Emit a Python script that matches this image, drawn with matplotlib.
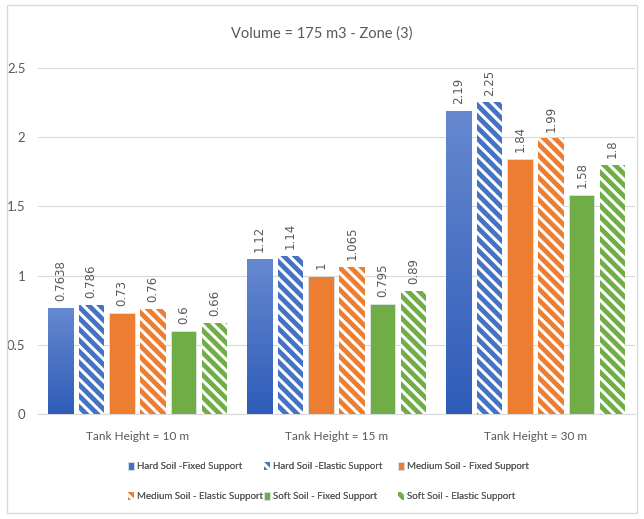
import numpy as np
import matplotlib
matplotlib.use("Agg")
import matplotlib.pyplot as plt
from matplotlib.colors import LinearSegmentedColormap
from matplotlib.patches import Rectangle

categories = ["Tank Height = 10 m", "Tank Height = 15 m", "Tank Height = 30 m"]
series_names = [
    "Hard Soil -Fixed Support",
    "Hard Soil -Elastic Support",
    "Medium Soil - Fixed Support",
    "Medium Soil - Elastic Support",
    "Soft Soil - Fixed Support",
    "Soft Soil - Elastic Support",
]
hard_fixed = [0.7638, 1.12, 2.19]
hard_elastic = [0.786, 1.14, 2.25]
medium_fixed = [0.73, 1.0, 1.84]
medium_elastic = [0.76, 1.065, 1.99]
soft_fixed = [0.6, 0.795, 1.58]
soft_elastic = [0.66, 0.89, 1.8]
value_labels = [
    ["0.7638", "1.12", "2.19"],
    ["0.786", "1.14", "2.25"],
    ["0.73", "1", "1.84"],
    ["0.76", "1.065", "1.99"],
    ["0.6", "0.795", "1.58"],
    ["0.66", "0.89", "1.8"],
]
yticks = [0, 0.5, 1, 1.5, 2, 2.5]
ytick_labels = ["0", "0.5", "1", "1.5", "2", "2.5"]

all_series = [hard_fixed, hard_elastic, medium_fixed, medium_elastic, soft_fixed, soft_elastic]
blue, orange, green = "#4472C4", "#ED7D31", "#70AD47"
colors = [blue, blue, orange, orange, green, green]
hatched = [False, True, False, True, False, True]

plt.rcParams["font.family"] = ["Lato", "DejaVu Sans"]
plt.rcParams["hatch.linewidth"] = 2.2
text_gray = "#595959"

W, H = 644, 519
fig = plt.figure(figsize=(W / 100, H / 100), dpi=100)
ax = fig.add_axes([0.059, 0.2023, 0.927, 0.667])

x = np.arange(len(categories))
step = 0.155
width = 0.127
offsets = (np.arange(6) - 2.5) * step

grad_cmap = LinearSegmentedColormap.from_list("blue_grad", ["#2E5CB8", "#6689D0"])

handles = []
for i, vals in enumerate(all_series):
    if hatched[i]:
        bars = ax.bar(x + offsets[i], vals, width, color=colors[i], edgecolor="white",
                      linewidth=0, hatch="\\\\\\", label=series_names[i], zorder=3)
    else:
        bars = ax.bar(x + offsets[i], vals, width, color=colors[i], edgecolor="#dde3ee",
                      linewidth=0.6, label=series_names[i], zorder=3)
    if i == 0:
        for b in bars:
            x0, w, h = b.get_x(), b.get_width(), b.get_height()
            grad = np.linspace(0, 1, 256).reshape(-1, 1)
            im = ax.imshow(grad, cmap=grad_cmap, origin="lower", aspect="auto",
                           extent=[x0, x0 + w, 0, h], zorder=3.5)
            im.set_clip_path(b)
    handles.append(bars)
    for b, lab in zip(bars, value_labels[i]):
        ax.annotate(lab, (b.get_x() + b.get_width() / 2, b.get_height()),
                    xytext=(0, 5), textcoords="offset points", rotation=90,
                    ha="center", va="bottom", fontsize=8.5, color=text_gray,
                    family="DejaVu Sans", zorder=5)

ax.set_xlim(-0.5, 2.5)
ax.set_ylim(0, 2.5)
ax.set_yticks(yticks)
ax.set_yticklabels(ytick_labels)
ax.set_xticks(x)
ax.set_xticklabels(categories)
ax.tick_params(axis="x", length=0, labelsize=8.5, colors=text_gray, pad=12)
ax.tick_params(axis="y", length=0, labelsize=9.5, colors=text_gray, pad=9)
ax.grid(axis="y", color="#d9d9d9", linewidth=0.8, zorder=0)
for side in ["top", "right", "left"]:
    ax.spines[side].set_visible(False)
ax.spines["bottom"].set_color("#d9d9d9")
ax.spines["bottom"].set_zorder(0)

fig.text(0.5, 0.935, "Volume = 175 m3 - Zone (3)", ha="center", va="center",
         fontsize=10.5, color=text_gray)

# legend: three equal-width columns, two rows, filled row by row
col_left_px = [128, 264, 398]
legend_center_y = 1 - 481.5 / H
for c, xpx in enumerate(col_left_px):
    idx = [c, c + 3]
    leg = fig.legend([handles[k] for k in idx], [series_names[k] for k in idx],
                     loc="center left", bbox_to_anchor=(xpx / W, legend_center_y),
                     ncol=1, frameon=False, fontsize=7, labelcolor=text_gray,
                     handlelength=0.65, handleheight=0.85, handletextpad=0.3,
                     labelspacing=2.15, borderpad=0, borderaxespad=0)
    fig.add_artist(leg)

fig.patches.append(Rectangle((0.011, 0.012), 0.978, 0.978, transform=fig.transFigure,
                             fill=False, edgecolor="#d9d9d9", linewidth=1))

fig.savefig("out.png", dpi=100)
